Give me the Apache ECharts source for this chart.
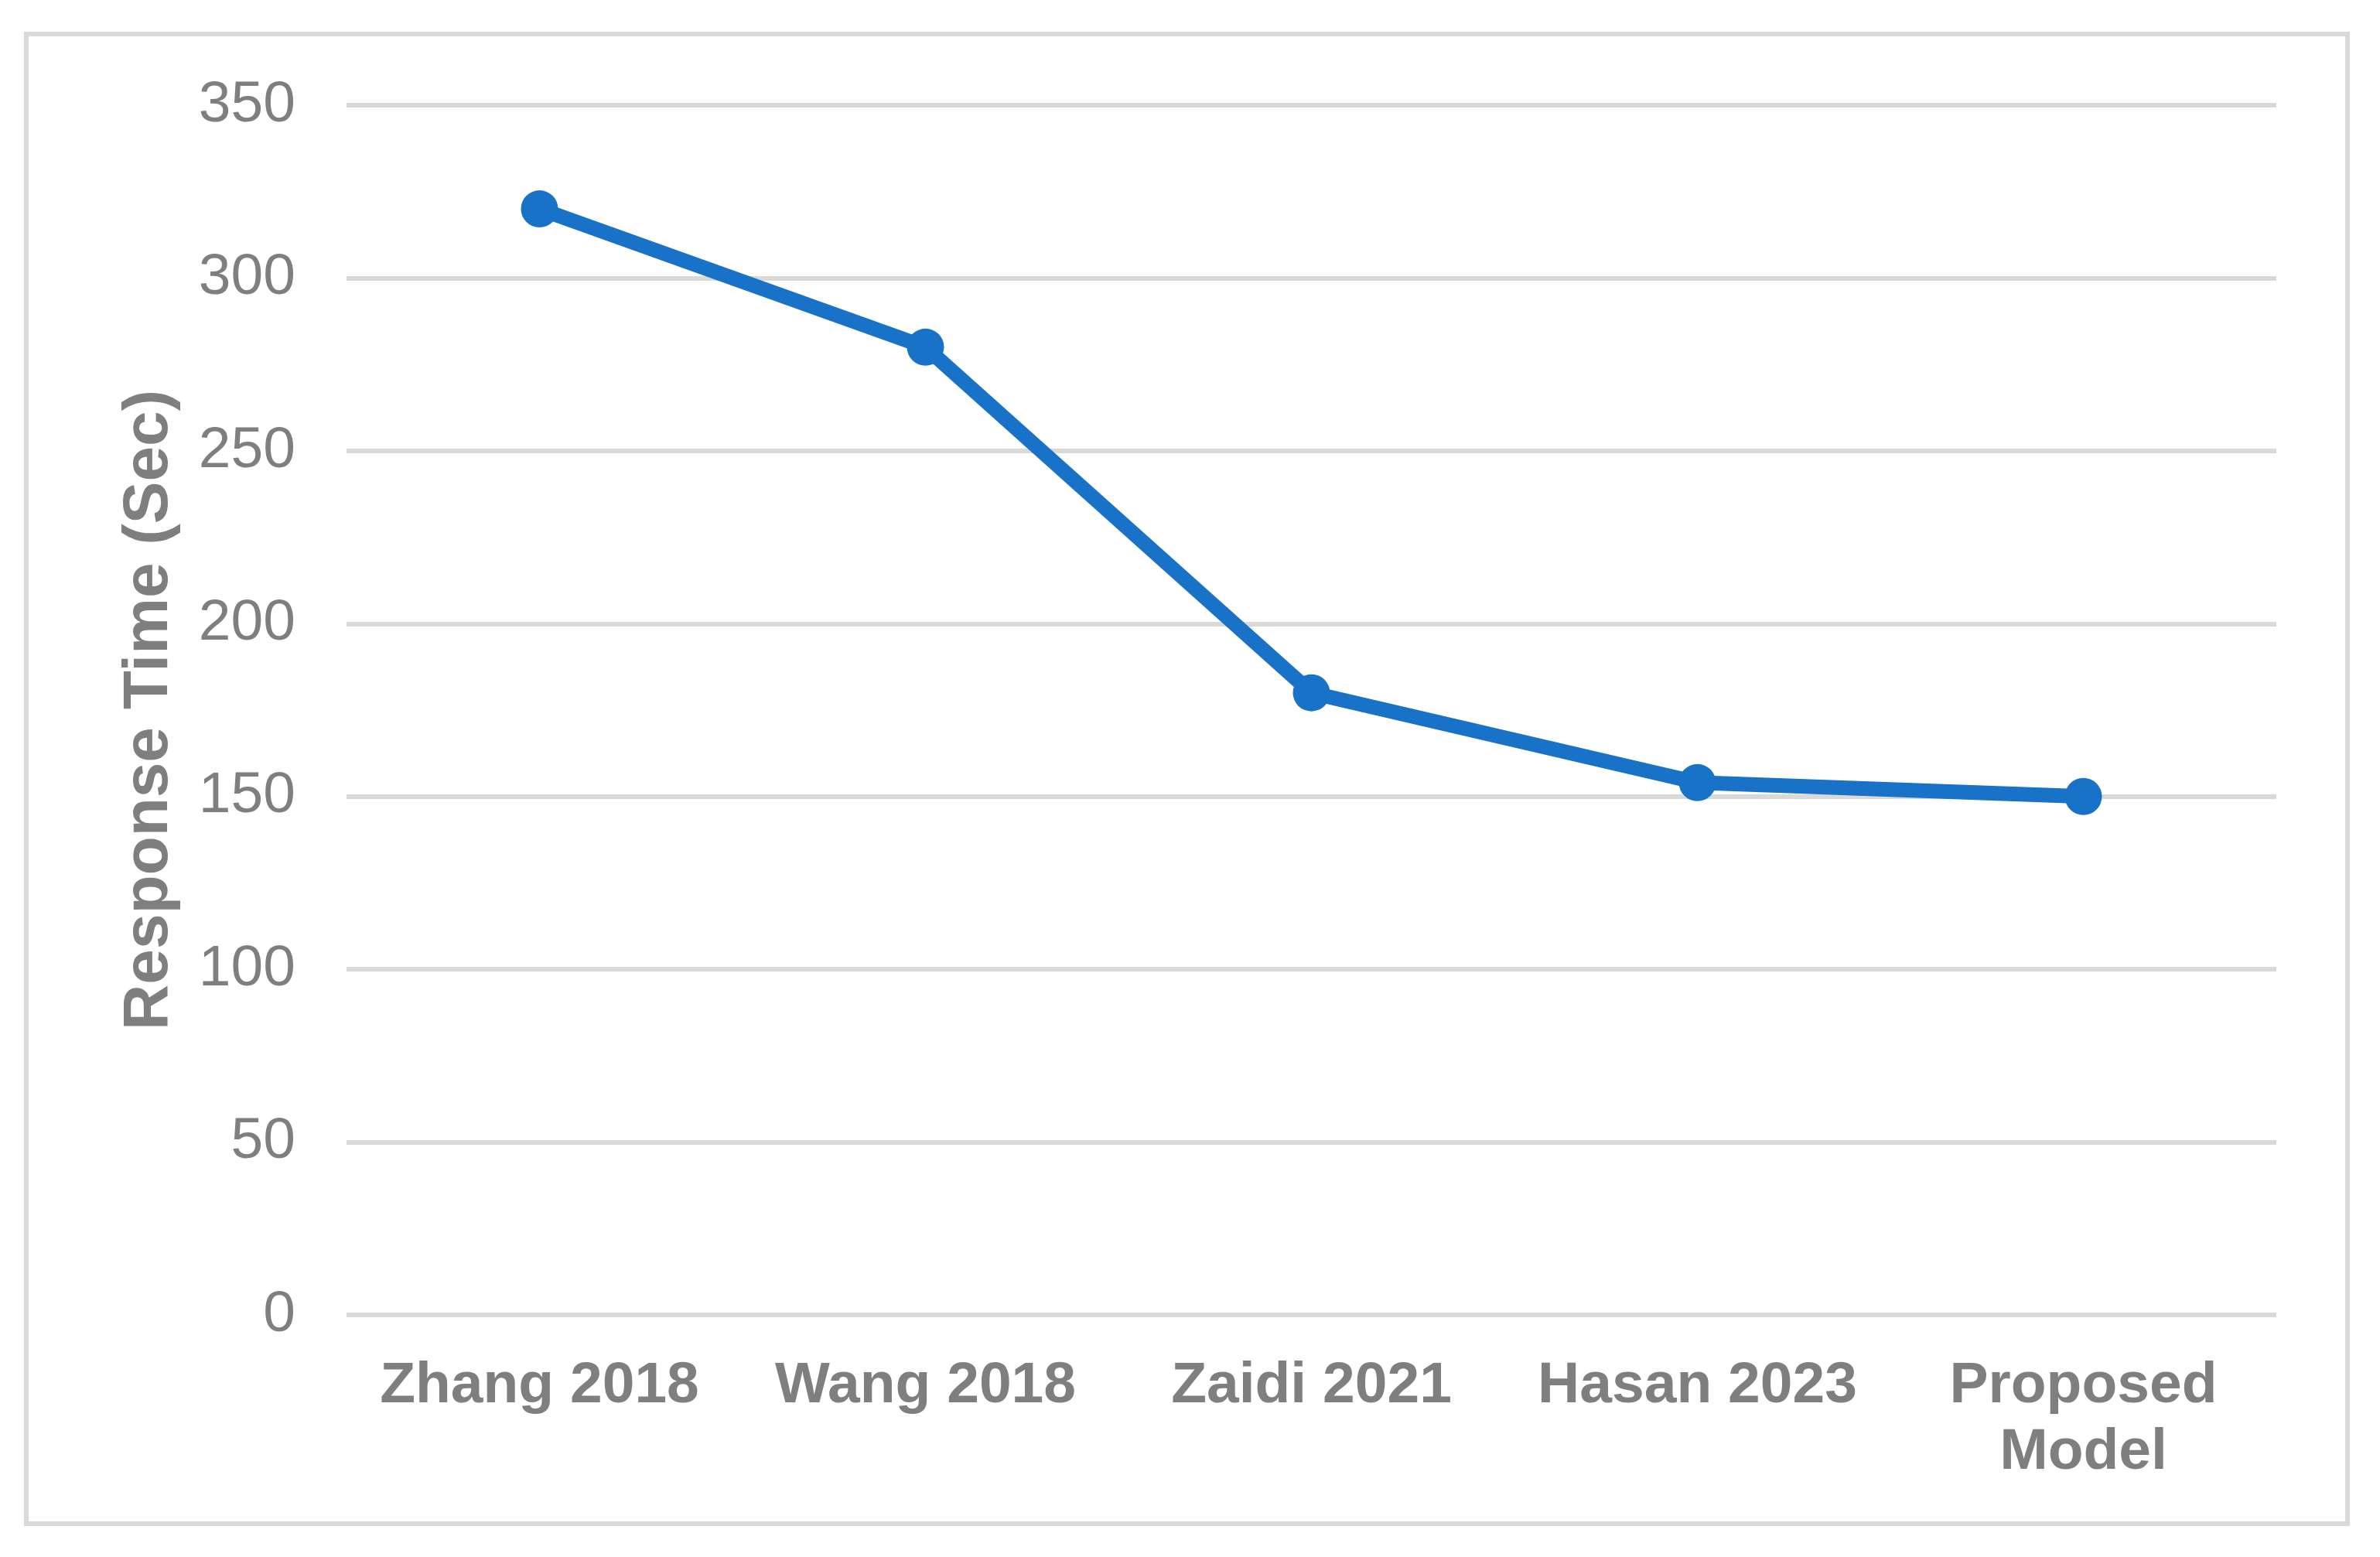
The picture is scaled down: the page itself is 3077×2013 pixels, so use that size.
<!DOCTYPE html>
<html>
<head>
<meta charset="utf-8">
<script src="https://cdn.jsdelivr.net/npm/echarts@6/dist/echarts.min.js"></script>
<style>
    html, body { margin: 0; padding: 0; background: #fff; }
    #chart { width: 3077px; height: 2013px; }
</style>
</head>
<body>
<div id="chart"></div>
<script>
const categories = ['Zhang 2018', 'Wang 2018', 'Zaidi 2021', 'Hasan 2023', 'Proposed\nModel']
const responseTime = [320, 280, 180, 154, 150]
const yTicks = [0, 50, 100, 150, 200, 250, 300, 350]

const grey = '#7f7f7f'
const gridGrey = '#d9d9d9'
const font = "'Liberation Sans', Arial, sans-serif"

const chart = echarts.init(document.getElementById('chart'))
chart.setOption({
    animation: false,
    backgroundColor: '#fff',
    graphic: [{
        type: 'rect',
        shape: { x: 34, y: 44, width: 3001, height: 1926 },
        style: { fill: 'none', stroke: gridGrey, lineWidth: 6 }
    }],
    grid: {
        left: 448,
        right: 134,
        top: 136,
        bottom: 313,
        containLabel: false
    },
    xAxis: {
        type: 'category',
        data: categories,
        axisLine: { show: false },
        axisTick: { show: false },
        axisLabel: {
            interval: 0,
            margin: 49,
            color: grey,
            fontFamily: font,
            fontWeight: 'bold',
            fontSize: 75,
            lineHeight: 86
        }
    },
    yAxis: {
        type: 'value',
        min: yTicks[0],
        max: yTicks[yTicks.length - 1],
        interval: yTicks[1] - yTicks[0],
        name: 'Response Time (Sec)',
        nameLocation: 'middle',
        nameGap: 214,
        nameTextStyle: {
            color: grey,
            fontFamily: font,
            fontWeight: 'bold',
            fontSize: 82
        },
        axisLine: { show: false },
        axisTick: { show: false },
        axisLabel: {
            margin: 66,
            color: grey,
            fontFamily: font,
            fontSize: 75
        },
        splitLine: { lineStyle: { color: gridGrey, width: 6 } }
    },
    series: [{
        name: 'Response Time',
        type: 'line',
        data: responseTime,
        symbol: 'circle',
        symbolSize: 48,
        lineStyle: { color: '#1872c8', width: 19 },
        itemStyle: { color: '#1872c8' }
    }]
})
</script>
</body>
</html>
